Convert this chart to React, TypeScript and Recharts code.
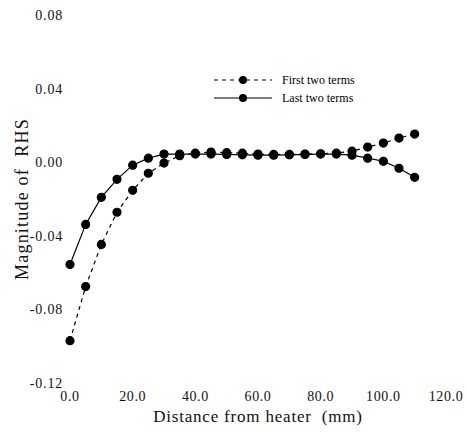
import React from "react"
import { LineChart, Line, XAxis, YAxis, Label } from "recharts"

const distance = [0, 5, 10, 15, 20, 25, 30, 35, 40, 45, 50, 55, 60, 65, 70, 75, 80, 85, 90, 95, 100, 105, 110]

const firstTwoTerms = [
  -0.097, -0.0676, -0.0447, -0.0272, -0.0153, -0.006, -0.0005, 0.0035, 0.0049, 0.0055, 0.0052, 0.0049,
  0.0044, 0.0042, 0.0042, 0.0044, 0.0046, 0.0049, 0.006, 0.0082, 0.0104, 0.0131, 0.0153,
]

const lastTwoTerms = [
  -0.0556, -0.0338, -0.0191, -0.0093, -0.0016, 0.0022, 0.0044, 0.0044, 0.0044, 0.0044, 0.0042, 0.004,
  0.0038, 0.0038, 0.004, 0.0042, 0.0044, 0.0044, 0.0038, 0.0022, 0.0005, -0.0033, -0.0082,
]

const xTicks = [0, 20, 40, 60, 80, 100, 120]
const yTicks = [-0.12, -0.08, -0.04, 0, 0.04, 0.08]

const seriesNames = ["First two terms", "Last two terms"]

const chartData = distance.map((d, i) => ({
  distance: d,
  first: firstTwoTerms[i],
  last: lastTwoTerms[i],
}))

const font = "Liberation Serif, DejaVu Serif, serif"

function XTick(props: any) {
  const { x, y, payload } = props
  return (
    <text x={x} y={y} dy="0.71em" textAnchor="middle" fontFamily={font} fontSize={14} letterSpacing={0.6} fill="#111">
      {Number(payload.value).toFixed(1)}
    </text>
  )
}

function YTick(props: any) {
  const { x, y, payload } = props
  return (
    <text x={x} y={y} dy="0.355em" textAnchor="end" fontFamily={font} fontSize={14} letterSpacing={0.8} fill="#111">
      {Number(payload.value).toFixed(2)}
    </text>
  )
}

function LegendBox() {
  const rows = [
    { name: seriesNames[0], dash: "4 4" },
    { name: seriesNames[1], dash: undefined },
  ]
  return (
    <svg width={170} height={40} style={{ display: "block" }}>
      {rows.map((r, i) => {
        const y = 8 + i * 18
        return (
          <g key={r.name}>
            <line x1={2} x2={60} y1={y} y2={y} stroke="#000" strokeWidth={1.2} strokeDasharray={r.dash} />
            <circle cx={31} cy={y} r={4} fill="#000" />
            <text x={70} y={y + 4} fontFamily={font} fontSize={12} fill="#000">
              {r.name}
            </text>
          </g>
        )
      })}
    </svg>
  )
}

export default function App() {
  return (
    <div style={{ position: "absolute", left: 0, top: 0, width: 468, height: 432, background: "#fff" }}>
      <LineChart
        width={468}
        height={432}
        data={chartData}
        margin={{ top: 15, right: 22, bottom: 19, left: 10 }}
      >
        <XAxis
          dataKey="distance"
          type="number"
          domain={[0, 120]}
          ticks={xTicks}
          axisLine={false}
          tickLine={false}
          tickSize={5}
          tickMargin={3}
          height={30}
          tick={<XTick />}
        >
          <Label
            value={"Distance from heater\u00a0\u00a0(mm)"}
            position="insideBottom"
            offset={-9}
            style={{ fontFamily: font, fontSize: 17, letterSpacing: 0.8, fill: "#111" }}
          />
        </XAxis>
        <YAxis
          type="number"
          domain={[-0.12, 0.08]}
          ticks={yTicks}
          axisLine={false}
          tickLine={false}
          tickSize={5}
          tickMargin={2}
          width={60}
          tick={<YTick />}
        >
          <Label
            value={"Magnitude of\u00a0\u00a0RHS"}
            angle={-90}
            position="insideLeft"
            offset={12}
            style={{ fontFamily: font, fontSize: 18, letterSpacing: 1.2, fill: "#111", textAnchor: "middle" }}
          />
        </YAxis>
        <Line
          dataKey="first"
          name={seriesNames[0]}
          stroke="#000"
          strokeWidth={1.2}
          strokeDasharray="4 4"
          dot={{ r: 4, fill: "#000", stroke: "#000", strokeDasharray: "" }}
          isAnimationActive={false}
        />
        <Line
          dataKey="last"
          name={seriesNames[1]}
          stroke="#000"
          strokeWidth={1.2}
          dot={{ r: 4, fill: "#000", stroke: "#000" }}
          isAnimationActive={false}
        />
      </LineChart>
      <div style={{ position: "absolute", left: 212, top: 72 }}>
        <LegendBox />
      </div>
    </div>
  )
}
